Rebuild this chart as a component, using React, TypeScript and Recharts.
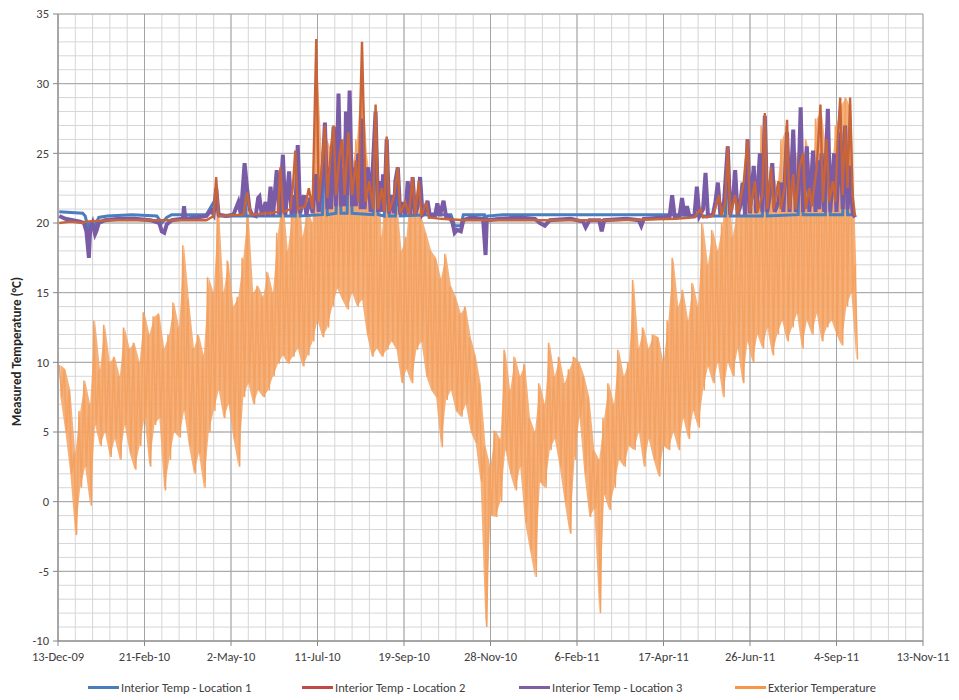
import React from 'react';
import { ComposedChart, Line, Area, XAxis, YAxis, CartesianGrid } from 'recharts';

// ---------- axis definitions ----------
const dateTickDays = [0, 70, 140, 210, 280, 350, 420, 490, 560, 630, 700];
const dateLabels = [
  '13-Dec-09', '21-Feb-10', '2-May-10', '11-Jul-10', '19-Sep-10', '28-Nov-10',
  '6-Feb-11', '17-Apr-11', '26-Jun-11', '4-Sep-11', '13-Nov-11',
];
const tempTicks = [-10, -5, 0, 5, 10, 15, 20, 25, 30, 35];
const minorDayStep = 14;
const minorTempStep = 1;

const seriesNames = [
  'Interior Temp - Location 1',
  'Interior Temp - Location 2',
  'Interior Temp - Location 3',
  'Exterior Temperature',
];

// ---------- exterior temperature (daily highs / lows, every 4 days from day 1) ----------
const exteriorStartDay = 1;
const exteriorStepDays = 4;
const exteriorHighs = [
  9.8, 9.5, 8.0, 3.5, 6.5, 8.7, 7.0, 13.0, 9.5, 12.7,
  10.0, 10.4, 9.0, 12.5, 11.0, 11.4, 10.0, 13.6, 12.0, 13.3,
  13.5, 11.0, 12.0, 14.3, 12.5, 18.4, 14.5, 11.0, 12.0, 10.5,
  16.1, 15.0, 21.5, 15.0, 17.3, 14.0, 14.7, 17.5, 21.0, 15.0,
  15.5, 14.7, 16.5, 15.0, 19.3, 22.0, 18.0, 21.0, 24.0, 19.0,
  21.0, 20.0, 31.0, 24.0, 26.0, 25.0, 27.0, 25.5, 28.0, 24.0,
  26.0, 31.0, 25.0, 22.0, 27.0, 19.0, 24.0, 21.0, 22.0, 18.0,
  19.0, 23.0, 21.5, 20.5, 19.3, 18.0, 17.5, 16.0, 17.8, 15.5,
  14.7, 13.5, 14.0, 11.8, 10.5, 8.5, 4.0, 2.5, 5.1, 4.5,
  10.9, 8.0, 10.4, 9.0, 9.9, 6.0, 5.0, 8.5, 7.0, 11.4,
  9.0, 10.4, 8.5, 9.5, 10.4, 10.0, 9.0, 7.5, 3.7, 3.0,
  6.0, 8.5, 7.0, 10.9, 9.0, 10.0, 15.9, 11.0, 12.5, 11.0,
  12.0, 11.8, 10.0, 13.0, 17.5, 14.0, 15.2, 13.0, 15.7, 14.0,
  20.0, 17.0, 19.5, 18.0, 20.0, 24.0, 19.0, 21.0, 20.5, 25.0,
  21.0, 23.0, 27.0, 22.0, 24.0, 22.5, 26.0, 27.0, 23.0, 25.0,
  24.0, 26.0, 23.0, 27.5, 28.0, 25.0, 24.0, 27.0, 28.5, 29.0,
  28.0, 17.0,
];
const exteriorLows = [
  7.5, 5.0, 2.0, -2.4, 1.0, 2.5, -0.3, 5.5, 4.0, 5.0,
  3.2, 4.5, 3.0, 5.5, 3.5, 2.3, 4.0, 6.0, 2.5, 5.5,
  6.0, 0.8, 3.0, 5.0, 4.6, 6.5, 4.0, 2.0, 3.5, 1.0,
  5.0, 6.5, 8.0, 6.0, 7.0, 4.5, 2.5, 7.5, 8.5, 7.0,
  8.0, 7.5, 8.0, 9.0, 9.9, 10.5, 9.9, 10.4, 11.0, 9.7,
  10.5, 11.5, 13.0, 11.8, 12.5, 14.0, 15.3, 14.5, 13.8, 15.0,
  14.0, 14.5, 12.0, 10.4, 11.0, 10.4, 10.9, 11.5, 10.9, 8.5,
  9.5, 8.5, 10.9, 11.5, 9.0, 8.0, 7.5, 3.9, 7.3, 8.0,
  6.5, 6.1, 7.0, 5.0, 4.2, 1.4, -9.0, -1.0, -1.1, 0.0,
  3.7, 2.0, 0.8, 2.5, -1.5, -3.5, -5.4, 1.4, 1.0, 3.7,
  4.5, 2.5, 0.0, -2.3, 3.0, 6.1, 2.0, -1.1, -0.5, -8.0,
  0.5, -0.6, 1.0, 3.0, 2.5, 4.0, 3.7, 5.0, 2.5, 4.5,
  3.0, 1.8, 4.0, 3.7, 5.0, 3.7, 6.0, 4.5, 6.5, 5.3,
  8.0, 9.7, 8.5, 10.0, 7.5, 10.0, 9.0, 11.0, 8.5, 11.5,
  10.0, 12.0, 11.0, 12.5, 10.5, 12.0, 13.0, 11.5, 12.5, 13.5,
  11.0, 13.0, 12.0, 13.5, 11.5, 12.5, 13.0, 12.0, 11.2, 14.0,
  15.0, 10.2,
];

// ---------- interior temperatures: [day since 13-Dec-09, °C] ----------
const location1Points: [number, number][] = [
  [1, 20.8], [20, 20.7], [22, 20.5], [24, 19.8], [25, 18.6], [26, 20.0], [30, 19.8], [33, 20.4],
  [40, 20.5], [60, 20.6], [80, 20.5], [84, 20.0], [88, 20.4], [92, 20.6], [120, 20.6],
  [128, 21.8], [130, 20.5], [150, 20.5], [151, 23.0], [152, 20.5], [180, 20.5], [182, 23.5],
  [184, 20.5], [192, 20.5], [194, 24.0], [196, 20.5], [214, 20.6], [216, 25.5], [218, 20.6],
  [225, 20.7], [227, 27.5], [229, 20.7], [234, 20.7], [236, 28.0], [238, 20.7], [255, 20.6],
  [257, 26.5], [259, 20.6], [264, 20.5], [266, 24.5], [268, 20.5], [273, 20.5], [275, 22.5],
  [277, 20.5], [300, 20.6], [318, 20.6], [321, 19.8], [326, 19.8], [328, 20.6], [345, 20.6],
  [346, 18.5], [347, 20.5], [360, 20.6], [400, 20.6], [450, 20.6], [500, 20.6], [520, 20.5],
  [540, 20.5], [542, 24.0], [544, 20.5], [570, 20.5], [572, 26.5], [574, 20.5], [599, 20.6],
  [601, 27.0], [603, 20.6], [621, 20.6], [623, 27.0], [625, 20.6], [635, 20.6], [637, 25.5],
  [639, 20.6], [645, 20.6],
];

const location2Points: [number, number][] = [
  [1, 20.0], [10, 20.1], [20, 20.0], [22, 20.1], [40, 20.2], [80, 20.2], [120, 20.2],
  [126, 20.5], [128, 23.3], [130, 20.5], [150, 20.6], [153, 22.2], [156, 20.6], [170, 20.7],
  [178, 20.8], [180, 24.0], [182, 20.8], [188, 21.0], [190, 22.5], [192, 25.2], [194, 21.0],
  [200, 21.2], [203, 22.5], [206, 21.0], [209, 33.2], [211, 21.5], [214, 24.5], [216, 27.0],
  [218, 21.8], [221, 25.5], [223, 27.0], [225, 22.0], [228, 25.0], [230, 26.0], [232, 22.0],
  [235, 26.5], [238, 22.0], [241, 24.5], [243, 21.5], [246, 33.0], [249, 21.5], [252, 23.0],
  [255, 21.0], [257, 28.5], [259, 21.0], [262, 22.5], [264, 20.8], [266, 26.2], [268, 20.8],
  [272, 22.0], [275, 24.0], [277, 20.7], [281, 21.5], [284, 20.6], [287, 23.3], [289, 20.6],
  [292, 23.0], [294, 20.5], [298, 21.5], [300, 20.4], [310, 20.3], [330, 20.2], [350, 20.2],
  [400, 20.2], [450, 20.2], [500, 20.3], [515, 20.4], [520, 21.0], [522, 20.4], [530, 20.5],
  [535, 22.0], [537, 20.5], [540, 21.5], [542, 25.5], [544, 20.6], [548, 22.0], [550, 20.6],
  [555, 23.0], [558, 26.0], [560, 20.8], [564, 23.0], [566, 20.8], [570, 22.0], [572, 27.9],
  [574, 21.0], [577, 24.0], [579, 21.0], [583, 23.0], [585, 21.0], [588, 22.5], [590, 27.4],
  [592, 21.0], [595, 23.5], [597, 21.0], [600, 24.0], [603, 25.0], [605, 21.0], [608, 22.5],
  [610, 21.2], [614, 24.0], [617, 28.5], [619, 21.5], [622, 26.0], [624, 21.5], [627, 23.0],
  [629, 21.5], [631, 26.0], [633, 29.0], [635, 22.0], [637, 27.0], [639, 22.5], [641, 29.0],
  [643, 22.0], [645, 20.5],
];

const location3Points: [number, number][] = [
  [1, 20.5], [6, 20.3], [12, 20.2], [18, 20.1], [21, 20.0], [23, 19.4], [25, 17.5], [26, 19.5],
  [28, 20.0], [30, 19.2], [31, 19.4], [33, 20.0], [38, 20.2], [50, 20.3], [62, 20.3], [75, 20.2],
  [82, 20.0], [84, 19.4], [86, 19.3], [88, 19.9], [92, 20.2], [101, 20.3], [102, 21.2], [103, 20.3],
  [112, 20.4], [120, 20.5], [124, 20.9], [126, 20.6], [128, 22.5], [130, 20.6], [136, 20.5],
  [142, 20.6], [146, 21.5], [148, 20.6], [151, 24.3], [153, 22.5], [155, 21.0], [157, 20.6],
  [160, 20.5], [162, 21.8], [163, 21.9], [165, 20.5], [168, 21.5], [170, 20.5], [172, 22.6],
  [174, 20.5], [177, 23.8], [179, 20.6], [182, 24.9], [184, 20.6], [187, 23.7], [189, 20.6],
  [191, 22.0], [192, 20.7], [194, 25.6], [196, 20.7], [199, 22.0], [201, 20.6], [204, 21.8],
  [206, 20.7], [209, 23.5], [211, 20.8], [214, 23.5], [216, 27.2], [218, 21.0], [220, 24.0],
  [221, 21.0], [223, 26.9], [225, 21.2], [227, 29.3], [229, 21.2], [231, 24.0], [232, 21.2],
  [233, 28.0], [234, 22.0], [236, 29.5], [238, 21.2], [240, 24.0], [241, 21.2], [243, 25.0],
  [245, 21.0], [246, 27.5], [248, 21.0], [251, 24.0], [253, 20.8], [257, 28.0], [259, 20.8],
  [261, 23.0], [262, 20.8], [263, 23.5], [264, 20.8], [266, 26.0], [268, 20.7], [270, 22.0],
  [272, 20.7], [273, 23.0], [275, 24.0], [277, 20.6], [279, 21.5], [281, 20.6], [283, 23.0],
  [285, 20.6], [287, 23.3], [289, 20.6], [291, 21.2], [293, 23.3], [295, 20.6], [297, 20.8],
  [299, 21.6], [301, 20.5], [303, 20.6], [305, 20.5], [307, 21.4], [309, 20.5], [312, 21.6],
  [314, 20.5], [316, 20.5], [319, 20.1], [321, 19.3], [323, 19.5], [326, 19.4], [328, 20.2],
  [334, 20.4], [344, 20.3], [346, 17.7], [347, 20.2], [358, 20.3], [374, 20.4], [386, 20.3],
  [390, 20.0], [394, 19.8], [398, 20.2], [415, 20.3], [425, 20.1], [427, 19.7], [430, 20.2],
  [438, 20.2], [440, 19.4], [442, 20.2], [460, 20.3], [470, 20.2], [472, 19.8], [474, 20.3],
  [490, 20.4], [495, 20.5], [497, 22.0], [499, 20.5], [503, 20.5], [505, 21.8], [507, 20.5],
  [509, 21.2], [511, 20.5], [515, 20.5], [517, 22.6], [519, 20.5], [522, 21.0], [524, 23.6],
  [526, 20.5], [530, 20.6], [532, 21.5], [534, 22.9], [536, 20.6], [539, 21.5], [542, 25.5],
  [544, 20.6], [546, 21.5], [548, 23.8], [550, 20.6], [552, 21.2], [554, 22.9], [556, 20.6],
  [558, 26.0], [560, 20.7], [563, 24.1], [565, 20.7], [568, 25.0], [570, 20.8], [572, 27.7],
  [574, 20.8], [576, 22.0], [578, 24.3], [580, 20.8], [583, 21.5], [585, 22.9], [587, 20.8],
  [590, 26.5], [592, 20.8], [595, 26.7], [597, 20.8], [599, 22.0], [601, 28.3], [603, 20.8],
  [606, 25.5], [608, 20.8], [611, 25.2], [613, 20.8], [615, 24.5], [616, 21.0], [618, 25.0],
  [620, 20.8], [623, 28.2], [625, 20.8], [628, 25.0], [630, 20.8], [633, 26.5], [635, 21.0],
  [637, 27.0], [639, 21.0], [641, 24.1], [643, 20.8], [645, 20.4],
];

// ---------- build library data ----------
const exteriorData = exteriorHighs.flatMap((h, i) => [
  { day: exteriorStartDay + i * exteriorStepDays, v: h },
  { day: exteriorStartDay + i * exteriorStepDays + exteriorStepDays / 2, v: exteriorLows[i] },
]);
const exteriorBand = exteriorHighs.map((h, i) => ({
  day: exteriorStartDay + i * exteriorStepDays + exteriorStepDays / 4,
  r: [exteriorLows[i], h],
}));
const toRows = (pts: [number, number][]) => pts.map(([day, v]) => ({ day, v }));
const loc1Data = toRows(location1Points);
const loc2Data = toRows(location2Points);
const loc3Data = toRows(location3Points);

const xMin = dateTickDays[0];
const xMax = dateTickDays[dateTickDays.length - 1];
const yMin = tempTicks[0];
const yMax = tempTicks[tempTicks.length - 1];
const minorDays: number[] = [];
for (let d = xMin; d <= xMax; d += minorDayStep) minorDays.push(d);
const minorTemps: number[] = [];
for (let t = yMin; t <= yMax; t += minorTempStep) minorTemps.push(t);

const labelFor = (day: number) => dateLabels[dateTickDays.indexOf(day)] ?? '';

const FONT = 'Carlito, Lato, "Liberation Sans", sans-serif';
const TEXT = '#404040';

const COLORS = {
  loc1: '#4A7EBF',
  loc2: '#C8643A',
  loc3: '#7A5BA6',
  ext: '#F4A262',
};
const LEGEND_COLORS = ['#4A7EBB', '#BE4B48', '#7D60A0', '#F79646'];
const legendLefts = [88, 302, 519, 735];

const YTitle = (props: any) => {
  const vb = props.viewBox || { x: 0, y: 14, width: 58, height: 627 };
  const x = vb.x + 16;
  const y = vb.y + vb.height / 2 + 24;
  return (
    <text
      x={x}
      y={y}
      transform={`rotate(-90, ${x}, ${y})`}
      textAnchor="middle"
      dominantBaseline="central"
      fontFamily={FONT}
      fontWeight="bold"
      fontSize={13}
      fill="#262626"
    >
      Measured Temperature (°C)
    </text>
  );
};

export default function App() {
  return (
    <div style={{ position: 'absolute', left: 0, top: 0, width: 959, height: 700, background: '#fff', fontFamily: FONT }}>
      <ComposedChart
        width={959}
        height={700}
        margin={{ top: 14, right: 36, bottom: 29, left: 0 }}
      >
        <CartesianGrid
          verticalValues={minorDays}
          horizontalValues={minorTemps}
          stroke="#D6D6D6"
          strokeWidth={1}
        />
        <CartesianGrid
          verticalValues={dateTickDays}
          horizontalValues={tempTicks}
          stroke="#A3A3A3"
          strokeWidth={1}
        />
        <XAxis
          dataKey="day"
          type="number"
          domain={[xMin, xMax]}
          ticks={dateTickDays}
          tickFormatter={labelFor}
          allowDataOverflow
          height={30}
          tickSize={5}
          tickMargin={6}
          stroke="#868686"
          tick={{ fill: TEXT, fontSize: 12.5, fontFamily: FONT }}
          interval={0}
        />
        <YAxis
          type="number"
          domain={[yMin, yMax]}
          ticks={tempTicks}
          width={58}
          tickSize={5}
          tickMargin={4}
          stroke="#868686"
          tick={{ fill: TEXT, fontSize: 12.5, fontFamily: FONT }}
          interval={0}
          label={<YTitle />}
        />
        <Area data={exteriorBand} dataKey="r" name={seriesNames[3]} type="linear" stroke="none" fill={COLORS.ext} fillOpacity={0.85} isAnimationActive={false} />
        <Line data={exteriorData} dataKey="v" name={seriesNames[3]} type="linear" stroke={COLORS.ext} strokeWidth={1.5} dot={false} isAnimationActive={false} />
        <Line data={loc1Data} dataKey="v" name={seriesNames[0]} type="linear" stroke={COLORS.loc1} strokeWidth={3} dot={false} isAnimationActive={false} />
        <Line data={loc3Data} dataKey="v" name={seriesNames[2]} type="linear" stroke={COLORS.loc3} strokeWidth={4} dot={false} isAnimationActive={false} />
        <Line data={loc2Data} dataKey="v" name={seriesNames[1]} type="linear" stroke={COLORS.loc2} strokeWidth={2.4} dot={false} isAnimationActive={false} />
      </ComposedChart>
      {seriesNames.map((name, i) => (
        <div
          key={name}
          style={{
            position: 'absolute',
            left: legendLefts[i],
            top: 680,
            display: 'flex',
            alignItems: 'center',
            fontSize: 12.5,
            color: TEXT,
            whiteSpace: 'nowrap',
          }}
        >
          <span style={{ display: 'inline-block', width: 31, height: 3, background: LEGEND_COLORS[i], marginRight: 2 }} />
          <span>{name}</span>
        </div>
      ))}
    </div>
  );
}
